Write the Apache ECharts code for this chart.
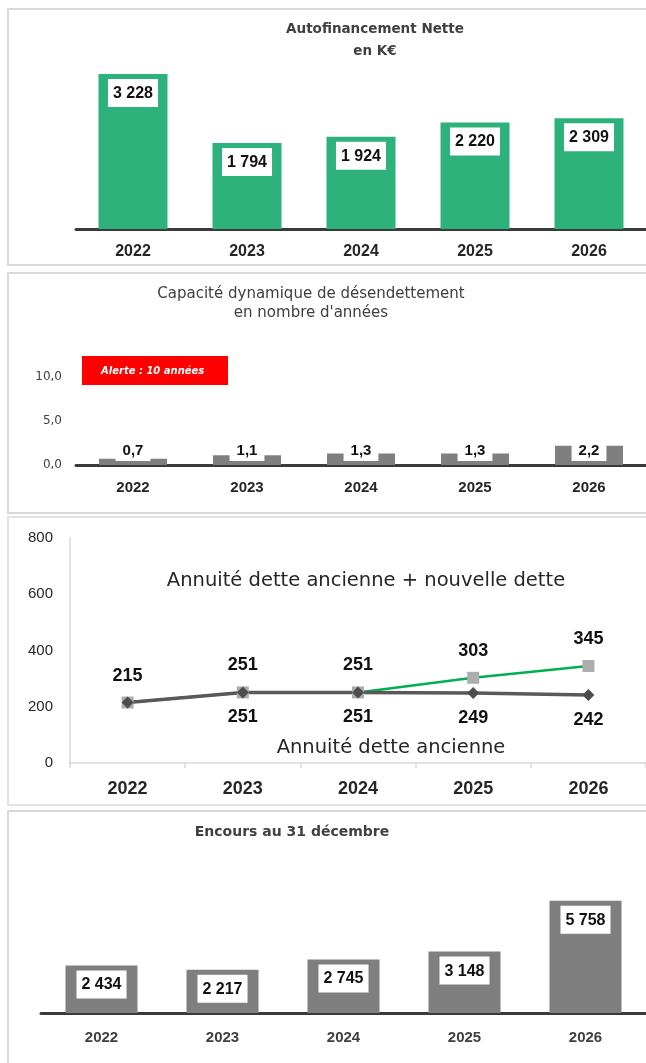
<!DOCTYPE html>
<html>
<head>
<meta charset="utf-8">
<script src="https://cdn.jsdelivr.net/npm/echarts@6/dist/echarts.min.js"></script>
<style>
  html, body { margin: 0; padding: 0; background: #fff; }
  #chart { width: 646px; height: 1063px; }
</style>
</head>
<body>
<div id="chart"></div>
<script>
// values
const years = ['2022', '2023', '2024', '2025', '2026'];
const autofinancement = [3228, 1794, 1924, 2220, 2309];
const capacite = [0.7, 1.1, 1.3, 1.3, 2.2];
const annuiteTotale = [215, 251, 251, 303, 345];
const annuiteAncienne = [215, 251, 251, 249, 242];
const encours = [2434, 2217, 2745, 3148, 5758];

const numFont = "'Liberation Sans', Arial, sans-serif";
const txtFont = "'DejaVu Sans', sans-serif";

// "3 228" style
function milliers(v) {
  return String(v).replace(/\B(?=(\d{3})+(?!\d))/g, ' ');
}
function virgule(v) {
  return v.toFixed(1).replace('.', ',');
}

function yearAxis(idx, opts) {
  return Object.assign({
    type: 'category',
    gridIndex: idx,
    data: years,
    axisTick: { show: false },
    axisLine: { lineStyle: { color: '#3a3a3a', width: 3 } },
    axisLabel: { fontFamily: numFont, fontWeight: 'bold', fontSize: 15, color: '#262626', margin: 16 }
  }, opts);
}

function boxLabel(pos, dist, size, fmt, pad) {
  return {
    show: true,
    position: pos,
    distance: dist,
    formatter: p => fmt(p.value),
    backgroundColor: '#fff',
    padding: pad,
    color: '#111',
    fontFamily: numFont,
    fontWeight: 'bold',
    fontSize: size,
    lineHeight: size + 1
  };
}

var chart = echarts.init(document.getElementById('chart'));

var option = {
  animation: false,
  title: [
    { text: 'Autofinancement Nette\nen K€', left: 375, top: 18, textAlign: 'center', padding: 0,
      textStyle: { fontFamily: txtFont, fontSize: 13.5, fontWeight: 'bold', color: '#404040', lineHeight: 22 } },
    { text: 'Capacité dynamique de désendettement\nen nombre d\'années', left: 311, top: 285, textAlign: 'center', padding: 0,
      textStyle: { fontFamily: txtFont, fontSize: 15, fontWeight: 'normal', color: '#404040', lineHeight: 19 } },
    { text: 'Annuité dette ancienne + nouvelle dette', left: 366, top: 569, textAlign: 'center', padding: 0,
      textStyle: { fontFamily: txtFont, fontSize: 19.5, fontWeight: 'normal', color: '#262626', lineHeight: 24 } },
    { text: 'Annuité dette ancienne', left: 391, top: 736, textAlign: 'center', padding: 0,
      textStyle: { fontFamily: txtFont, fontSize: 19.5, fontWeight: 'normal', color: '#262626', lineHeight: 24 } },
    { text: 'Encours au 31 décembre', left: 292, top: 823, textAlign: 'center', padding: 0,
      textStyle: { fontFamily: txtFont, fontSize: 14, fontWeight: 'bold', color: '#404040', lineHeight: 18 } }
  ],
  graphic: [
    // panel frames
    { type: 'rect', shape: { x: 8, y: 9, width: 660, height: 256 }, style: { fill: 'none', stroke: '#d9d9d9', lineWidth: 2 }, z: -1 },
    { type: 'rect', shape: { x: 8, y: 273, width: 660, height: 240 }, style: { fill: 'none', stroke: '#d9d9d9', lineWidth: 2 }, z: -1 },
    { type: 'rect', shape: { x: 8, y: 517, width: 660, height: 288 }, style: { fill: 'none', stroke: '#e3e3e3', lineWidth: 2 }, z: -1 },
    { type: 'rect', shape: { x: 8, y: 811, width: 660, height: 300 }, style: { fill: 'none', stroke: '#d9d9d9', lineWidth: 2 }, z: -1 },
    // alert box
    { type: 'rect', shape: { x: 82, y: 356, width: 146, height: 29 }, style: { fill: '#ff0000' } },
    { type: 'text', x: 101, y: 371,
      style: { text: 'Alerte : 10 années', fill: '#fff', font: 'italic bold 10px ' + txtFont, verticalAlign: 'middle' } }
  ],
  grid: [
    { left: 76, width: 575, top: 61, height: 168 },
    { left: 76, width: 575, top: 333, height: 132 },
    { left: 70, width: 576, top: 538, height: 225 },
    { left: 41, width: 610, top: 857, height: 156 }
  ],
  xAxis: [
    yearAxis(0, { axisLabel: { fontFamily: numFont, fontWeight: 'bold', fontSize: 16, color: '#262626', margin: 15 } }),
    yearAxis(1, { axisLabel: { fontFamily: numFont, fontWeight: 'bold', fontSize: 15, color: '#262626', margin: 15 } }),
    yearAxis(2, {
      axisTick: { show: true, length: 5, lineStyle: { color: '#d9d9d9', width: 1.5 } },
      axisLine: { lineStyle: { color: '#d9d9d9', width: 1.5 } },
      axisLabel: { fontFamily: numFont, fontWeight: 'bold', fontSize: 18, color: '#262626', margin: 17 }
    }),
    yearAxis(3, { axisLabel: { fontFamily: numFont, fontWeight: 'bold', fontSize: 15, color: '#404040', margin: 17 } })
  ],
  yAxis: [
    { type: 'value', gridIndex: 0, min: 0, max: 3500, show: false },
    { type: 'value', gridIndex: 1, min: 0, max: 15, interval: 5,
      axisLine: { show: false }, axisTick: { show: false }, splitLine: { show: false },
      axisLabel: { fontFamily: txtFont, fontSize: 12, color: '#404040', margin: 14,
        formatter: v => (v <= 10 ? virgule(v) : '') } },
    { type: 'value', gridIndex: 2, min: 0, max: 800, interval: 200,
      axisLine: { show: true, lineStyle: { color: '#d9d9d9', width: 1.5 } },
      axisTick: { show: false }, splitLine: { show: false },
      axisLabel: { fontFamily: numFont, fontSize: 15, color: '#262626', margin: 17 } },
    { type: 'value', gridIndex: 3, min: 0, max: 8000, show: false }
  ],
  series: [
    {
      name: 'Autofinancement Nette', type: 'bar', xAxisIndex: 0, yAxisIndex: 0,
      data: autofinancement, barWidth: 69,
      itemStyle: { color: '#2eb27c' },
      label: boxLabel('insideTop', 5, 16, milliers, [6, 5, 5, 5])
    },
    {
      name: 'Capacité dynamique', type: 'bar', xAxisIndex: 1, yAxisIndex: 1,
      data: capacite, barWidth: 68,
      itemStyle: { color: '#7f7f7f' },
      label: boxLabel('insideBottom', 4, 15, virgule, [2, 7, 2, 7])
    },
    {
      name: 'Annuité dette ancienne + nouvelle dette', type: 'line', xAxisIndex: 2, yAxisIndex: 2,
      data: annuiteTotale,
      symbol: 'rect', symbolSize: 12,
      itemStyle: { color: '#acacac' },
      lineStyle: { color: '#00b050', width: 2.5 },
      label: { show: true, position: 'top', distance: 12, fontFamily: numFont, fontWeight: 'bold', fontSize: 18, color: '#111' }
    },
    {
      name: 'Annuité dette ancienne', type: 'line', xAxisIndex: 2, yAxisIndex: 2,
      data: annuiteAncienne.map((v, i) => (i === 0 ? { value: v, label: { show: false } } : v)),
      symbol: 'diamond', symbolSize: 12,
      itemStyle: { color: '#4d4d4d' },
      lineStyle: { color: '#595959', width: 3.5 },
      label: { show: true, position: 'bottom', distance: 10, fontFamily: numFont, fontWeight: 'bold', fontSize: 18, color: '#111' }
    },
    {
      name: 'Encours au 31 décembre', type: 'bar', xAxisIndex: 3, yAxisIndex: 3,
      data: encours, barWidth: 72,
      itemStyle: { color: '#7f7f7f' },
      label: boxLabel('insideTop', 5, 16, milliers, [6, 5, 5, 5])
    }
  ]
};

chart.setOption(option);
</script>
</body>
</html>
